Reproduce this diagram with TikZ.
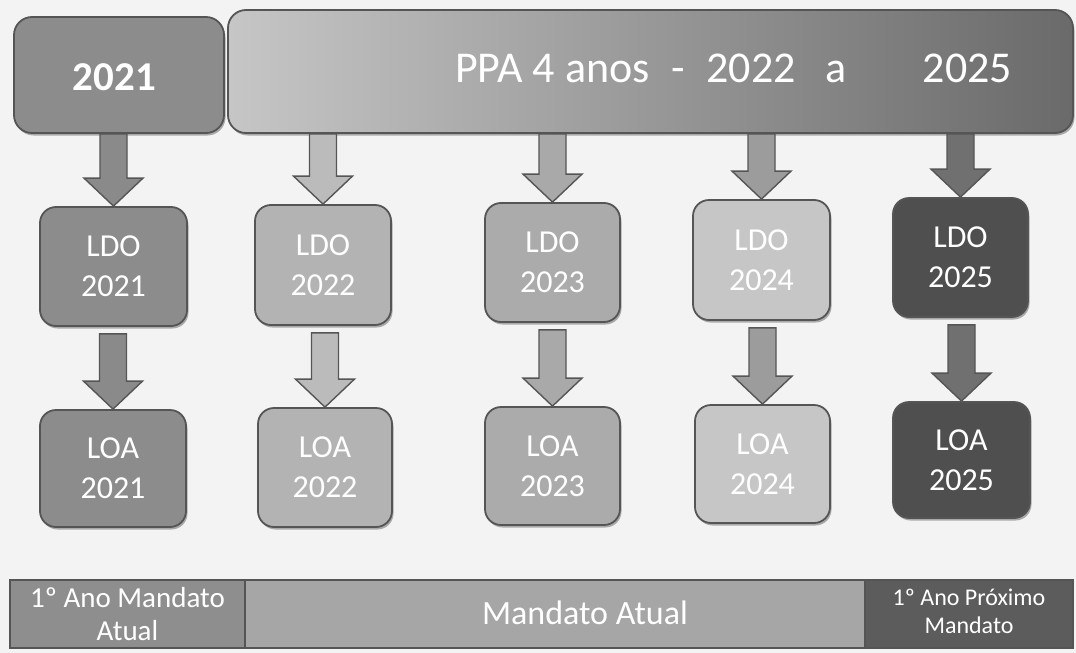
\documentclass[tikz,border=0pt]{standalone}
\usepackage{fontspec}
\setmainfont{Carlito}
\usetikzlibrary{calc,shadows}
\definecolor{bg}{HTML}{F3F3F3}
\definecolor{edge}{HTML}{555555}
\definecolor{gA}{HTML}{8C8C8C}
\definecolor{gB}{HTML}{B3B3B3}
\definecolor{gC}{HTML}{ABABAB}
\definecolor{gD}{HTML}{C6C6C6}
\definecolor{gE}{HTML}{4F4F4F}
\definecolor{aA}{HTML}{8A8A8A}
\definecolor{aB}{HTML}{BBBBBB}
\definecolor{aC}{HTML}{A9A9A9}
\definecolor{aD}{HTML}{9C9C9C}
\definecolor{aE}{HTML}{707070}
\definecolor{ppaL}{HTML}{C6C6C6}
\definecolor{ppaR}{HTML}{6A6A6A}
\definecolor{sA}{HTML}{8E8E8E}
\definecolor{sB}{HTML}{A6A6A6}
\definecolor{sC}{HTML}{5C5C5C}
\newcommand\blockarrow[4]{%
  \filldraw[barrowst, fill=#3] let \p1=(#1.south), \p2=(#2.north), \p3=(#2.center) in
   (\x3-13.5pt,\y1-#4) -- (\x3+13.5pt,\y1-#4) -- (\x3+13.5pt,\y2+28pt) -- (\x3+29.5pt,\y2+28pt)
   -- (\x3,\y2) -- (\x3-29.5pt,\y2+28pt) -- (\x3-13.5pt,\y2+28pt) -- cycle;
}
\begin{document}
\begin{tikzpicture}[x=1pt,y=-1pt,
  shad/.style={drop shadow={shadow xshift=1.5pt,shadow yshift=-2.5pt,opacity=0.3,fill=black}},
  box/.style={draw=edge, line width=1.8pt, rounded corners=16pt, text=white, align=center,
    font=\fontsize{32}{40}\selectfont, inner sep=0pt, shad},
  topbox/.style={draw=edge, line width=1.8pt, rounded corners=18pt, inner sep=0pt, shad},
  barrowst/.style={draw=edge, line width=1.4pt, line join=miter},
  seg/.style={draw=edge, line width=1.4pt, inner sep=0pt, text=white, align=center},
  lbl/.style={text=white, align=center, inner sep=0pt}
]
\fill[bg] (0,0) rectangle (1076,653);
\useasboundingbox (0,0) rectangle (1076,653);

% top bars
\node[topbox, fill=gA, minimum width=210pt, minimum height=116pt] (y2021) at (119,75) {};
\node[lbl, font=\fontsize{41}{48}\selectfont\bfseries, anchor=base] (t2021) at (114.5,90) {2021};
\node[topbox, left color=ppaL, right color=ppaR, minimum width=845pt, minimum height=123pt] (ppa) at (650.5,71.5) {};
\node[lbl, font=\fontsize{44}{50}\selectfont, anchor=base west] (tppa) at (455,82)
  {PPA 4 anos\hspace{22pt}-\hspace{21.5pt}2022\hspace{30pt}a\hspace{76pt}2025};

% LDO / LOA boxes
\node[box, fill=gA, minimum width=147pt, minimum height=119pt] (ldo1) at (113.5,266.5) {LDO\\2021};
\node[box, fill=gA, minimum width=146pt, minimum height=117pt] (loa1) at (113,468.5) {LOA\\2021};
\node[box, fill=gB, minimum width=136pt, minimum height=120pt] (ldo2) at (323,265) {LDO\\2022};
\node[box, fill=gB, minimum width=134pt, minimum height=119pt] (loa2) at (325,467.5) {LOA\\2022};
\node[box, fill=gC, minimum width=135pt, minimum height=119pt] (ldo3) at (552.5,262.5) {LDO\\2023};
\node[box, fill=gC, minimum width=135pt, minimum height=118pt] (loa3) at (552.5,466) {LOA\\2023};
\node[box, fill=gD, minimum width=137pt, minimum height=120pt] (ldo4) at (761.5,260) {LDO\\2024};
\node[box, fill=gD, minimum width=135pt, minimum height=118pt] (loa4) at (762.5,464) {LOA\\2024};
\node[box, fill=gE, minimum width=135pt, minimum height=119pt] (ldo5) at (960.5,257.5) {LDO\\2025};
\node[box, fill=gE, minimum width=137pt, minimum height=116pt] (loa5) at (961.5,460) {LOA\\2025};

% arrows
\blockarrow{y2021}{ldo1}{aA}{0pt}
\blockarrow{ppa}{ldo2}{aB}{0pt}
\blockarrow{ppa}{ldo3}{aC}{0pt}
\blockarrow{ppa}{ldo4}{aD}{0pt}
\blockarrow{ppa}{ldo5}{aE}{0pt}
\blockarrow{ldo1}{loa1}{aA}{7pt}
\blockarrow{ldo2}{loa2}{aB}{7pt}
\blockarrow{ldo3}{loa3}{aC}{7pt}
\blockarrow{ldo4}{loa4}{aD}{7pt}
\blockarrow{ldo5}{loa5}{aE}{7pt}

% bottom bar
\node[seg, fill=sA, minimum width=235pt, minimum height=68pt, font=\fontsize{29}{33}\selectfont] (s1) at (127.5,614) {1º Ano Mandato\\Atual};
\node[seg, fill=sB, minimum width=620pt, minimum height=68pt] (s2) at (555,614) {};
\node[lbl, font=\fontsize{34}{40}\selectfont] (t2) at (585,613) {Mandato Atual};
\node[seg, fill=sC, minimum width=208pt, minimum height=68pt] (s3) at (969,614) {};
\node[lbl, font=\fontsize{24}{28}\selectfont] (t3) at (969,611) {1º Ano Próximo\\Mandato};
\end{tikzpicture}
\end{document}
